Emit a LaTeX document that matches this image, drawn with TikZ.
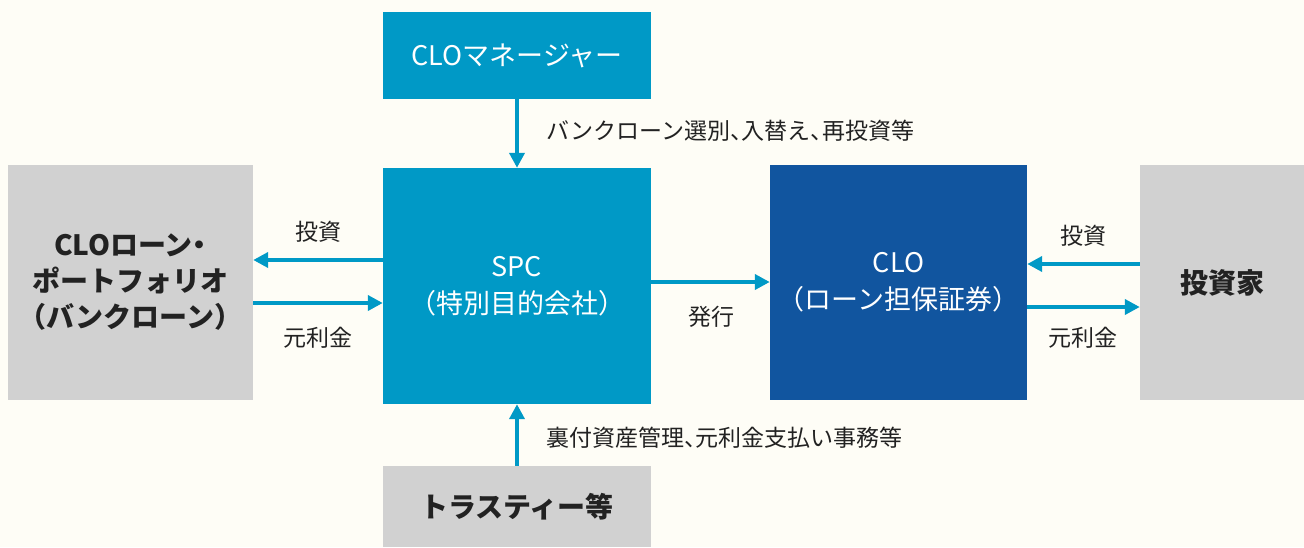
\documentclass[tikz,border=0pt]{standalone}
\usepackage{fontspec}
\setmainfont{Noto Sans CJK JP}[RawFeature=+halt]
\usetikzlibrary{arrows.meta}
\definecolor{bg}{HTML}{FEFDF6}
\definecolor{cyanbox}{HTML}{0099C6}
\definecolor{navybox}{HTML}{11559F}
\definecolor{graybox}{HTML}{D1D1D1}
\definecolor{txt}{HTML}{222222}
\begin{document}
\begin{tikzpicture}[x=1pt,y=-1pt,
  box/.style={draw=none,inner sep=0pt,align=center,font=\fontsize{27}{37}\selectfont},
  cbox/.style={box,fill=cyanbox,text=white},
  nbox/.style={box,fill=navybox,text=white},
  gbox/.style={box,fill=graybox,text=txt,font=\fontsize{28}{36}\selectfont\bfseries},
  lbl/.style={inner sep=0pt,text=txt,font=\fontsize{23}{26}\selectfont},
  arr/.style={draw=cyanbox,line width=4pt,-{Triangle[length=15pt,width=15pt]}}
]
\fill[bg] (0,0) rectangle (1304,547);
\useasboundingbox (0,0) rectangle (1304,547);
\node[cbox,minimum width=268pt,minimum height=87pt] (mgr) at (517,55.5) {CLOマネージャー};
\node[cbox,minimum width=268pt,minimum height=236pt] (spc) at (517,286) {SPC\\（特別目的会社）};
\node[nbox,minimum width=257pt,minimum height=235pt] (clo) at (898.5,282.5) {CLO\\（ローン担保証券）};
\node[gbox,minimum width=245pt,minimum height=235pt] (port) at (130.5,282.5) {CLOローン・\\ポートフォリオ\\（バンクローン）};
\node[gbox,minimum width=164pt,minimum height=235pt] (inv) at (1222,282.5) {投資家};
\node[gbox,minimum width=268pt,minimum height=81pt] (tru) at (517,506.5) {トラスティー等};

\draw[arr] (mgr.south) -- (spc.north);
\draw[arr] (tru.north) -- (spc.south);
\draw[arr] (spc.west |- 0,260) -- (port.east |- 0,260);
\draw[arr] (port.east |- 0,303) -- (spc.west |- 0,303);
\draw[arr] (spc.east |- 0,282) -- (clo.west |- 0,282);
\draw[arr] (inv.west |- 0,264) -- (clo.east |- 0,264);
\draw[arr] (clo.east |- 0,307) -- (inv.west |- 0,307);

\node[lbl,anchor=west] (l1) at (546,131) {バンクローン選別、入替え、再投資等};
\node[lbl,anchor=west] (l2) at (546,438) {裏付資産管理、元利金支払い事務等};
\node[lbl] (l3) at (318,232) {投資};
\node[lbl] (l4) at (318,338) {元利金};
\node[lbl] (l5) at (711,317) {発行};
\node[lbl] (l6) at (1083,236) {投資};
\node[lbl] (l7) at (1083,338) {元利金};
\end{tikzpicture}
\end{document}
